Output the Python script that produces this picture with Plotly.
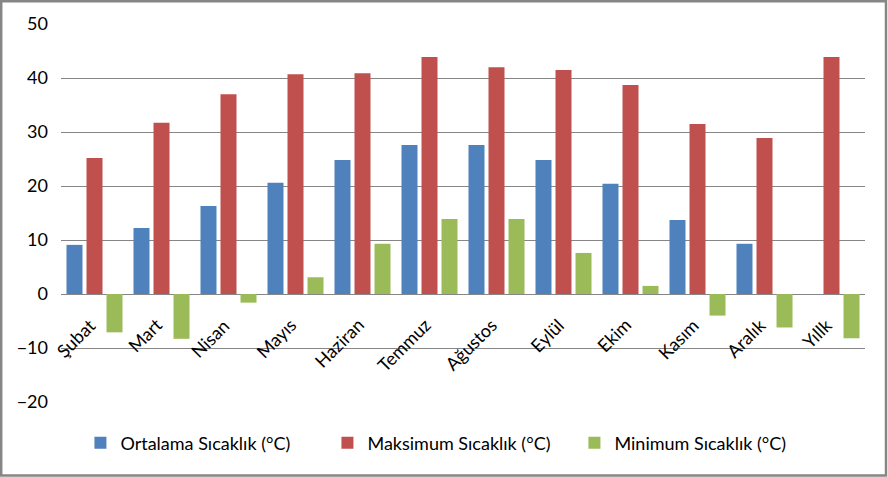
import plotly.graph_objects as go

categories = ["Şubat", "Mart", "Nisan", "Mayıs", "Haziran", "Temmuz", "Ağustos",
              "Eylül", "Ekim", "Kasım", "Aralık", "Yıllk"]
ortalama = [9.1, 12.2, 16.3, 20.6, 24.8, 27.6, 27.6, 24.8, 20.4, 13.7, 9.3, None]
maksimum = [25.2, 31.7, 37.0, 40.7, 40.9, 43.9, 42.0, 41.5, 38.7, 31.5, 28.9, 43.9]
minimum = [-7.1, -8.3, -1.6, 3.1, 9.3, 13.9, 13.9, 7.6, 1.5, -4.0, -6.2, -8.2]
series_names = ["Ortalama Sıcaklık (°C)", "Maksimum Sıcaklık (°C)", "Minimum Sıcaklık (°C)"]
colors = ["#4F81BD", "#C0504D", "#9BBB59"]
y_ticks = [-20, -10, 0, 10, 20, 30, 40, 50]

FONT = "Lato"
W, H = 888, 477
ML, MR, MT, MB = 61, 23, 24, 75

fig = go.Figure()
for name, vals, col in zip(series_names, [ortalama, maksimum, minimum], colors):
    fig.add_trace(go.Bar(x=categories, y=vals, name=name, marker_color=col,
                         marker_line_width=0))

annotations = []
for c in categories:
    annotations.append(dict(x=c, y=0, xref="x", yref="y", text=c, showarrow=False,
                            textangle=-45, xanchor="right", yanchor="top",
                            xshift=8, yshift=-17,
                            font=dict(family=FONT, size=18, color="#000000")))

pw = W - ML - MR
ph = H - MT - MB
fig.add_shape(type="rect", xref="paper", yref="paper",
              x0=(1.2 - ML) / pw, x1=(886 - ML) / pw,
              y0=-(H - 1.5 - MT - ph) / ph, y1=1 + (MT - 1.2) / ph,
              line=dict(color="#868686", width=2.5), fillcolor="rgba(0,0,0,0)",
              layer="above")

fig.update_layout(
    width=W, height=H,
    margin=dict(l=ML, r=MR, t=MT, b=MB, autoexpand=False),
    paper_bgcolor="white", plot_bgcolor="white",
    font=dict(family=FONT, size=18, color="#000000"),
    barmode="group", bargap=0.104, bargroupgap=0.2,
    showlegend=True,
    legend=dict(orientation="h", x=0.485, xanchor="center", y=-(443 - 402) / ph,
                yanchor="middle",
                font=dict(family=FONT, size=18, color="#000000"),
                entrywidth=202, entrywidthmode="pixels",
                bgcolor="rgba(0,0,0,0)"),
    xaxis=dict(range=[-0.5, len(categories) - 0.5], autorange=False,
               showticklabels=False, showgrid=False, showline=False, ticks="",
               zeroline=False, fixedrange=True),
    yaxis=dict(range=[-20, 50], autorange=False, tickvals=y_ticks, showgrid=True,
               gridcolor="#868686", gridwidth=1, zeroline=True,
               zerolinecolor="#868686", zerolinewidth=1,
               showline=False, ticks="", ticklabelstandoff=12,
               tickfont=dict(family=FONT, size=18, color="#000000")),
    annotations=annotations,
)

fig.write_html("out.html", config={"displayModeBar": False},
               post_script="document.body.style.margin='0';")
